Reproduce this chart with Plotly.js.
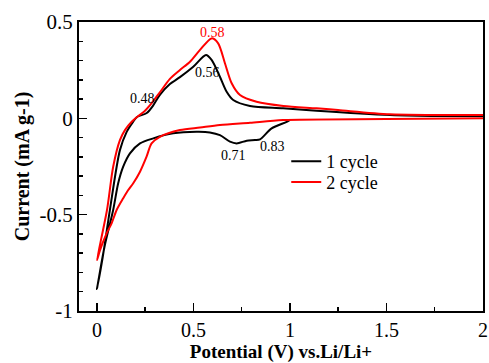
<!DOCTYPE html>
<html>
<head>
<meta charset="utf-8">
<script src="https://cdn.plot.ly/plotly-3.0.1.min.js"></script>
<style>html,body{margin:0;padding:0;background:#fff}#chart{width:489px;height:363px}</style>
</head>
<body>
<div id="chart"></div>
<script>
// Cycle 1: cathodic sweep (1.0 V -> 0 V) then anodic sweep (0 V -> 2 V)
const cycle1X = [1.0, 0.983, 0.905, 0.845, 0.819, 0.776, 0.724, 0.689, 0.637, 0.585, 0.516, 0.395, 0.292, 0.223, 0.171, 0.136, 0.110, 0.084, 0.040, 0.0,
                 0.030, 0.067, 0.119, 0.154, 0.187, 0.206, 0.258, 0.290, 0.326, 0.378, 0.430, 0.499, 0.565, 0.594, 0.637, 0.672, 0.706, 0.793, 0.964, 1.138, 1.518, 1.777, 2.0];
const cycle1Y = [-0.008, -0.018, -0.052, -0.109, -0.113, -0.116, -0.130, -0.121, -0.087, -0.073, -0.070, -0.078, -0.104, -0.130, -0.182, -0.251, -0.337, -0.476, -0.663, -0.886,
                 -0.720, -0.476, -0.165, -0.070, -0.018, 0.006, 0.028, 0.065, 0.122, 0.178, 0.214, 0.268, 0.329, 0.303, 0.216, 0.138, 0.095, 0.064, 0.052, 0.039, 0.017, 0.012, 0.012];
// Cycle 2: cathodic sweep (2 V -> 0 V) then anodic sweep (0 V -> 2 V)
const cycle2X = [2.0, 1.5, 0.964, 0.793, 0.637, 0.534, 0.430, 0.326, 0.283, 0.257, 0.223, 0.188, 0.162, 0.136, 0.102, 0.076, 0.050, 0.016, 0.0,
                 0.052, 0.084, 0.119, 0.145, 0.180, 0.214, 0.245, 0.275, 0.326, 0.378, 0.430, 0.482, 0.534, 0.594, 0.628, 0.663, 0.698, 0.741, 0.827, 0.966, 1.138, 1.249, 1.518, 2.0];
const cycle2Y = [0.0, -0.004, -0.009, -0.023, -0.035, -0.048, -0.061, -0.096, -0.130, -0.199, -0.277, -0.337, -0.372, -0.415, -0.476, -0.545, -0.597, -0.684, -0.736,
                 -0.476, -0.251, -0.113, -0.061, -0.018, 0.012, 0.035, 0.068, 0.135, 0.205, 0.251, 0.294, 0.355, 0.415, 0.389, 0.286, 0.182, 0.121, 0.086, 0.064, 0.052, 0.043, 0.021, 0.017];
const seriesNames = ['1 cycle', '2 cycle'];
const peakLabels = ['0.58', '0.56', '0.48', '0.71', '0.83'];
const peakX = [0.601, 0.575, 0.238, 0.705, 0.907];
const peakY = [0.448, 0.240, 0.105, -0.191, -0.144];
const peakColors = ['#ff0000', '#000000', '#000000', '#000000', '#000000'];
const xTickVals = [0, 0.5, 1, 1.5, 2];
const xTickText = ['0', '0.5', '1', '1.5', '2'];
const yTickVals = [-1, -0.5, 0, 0.5];
const yTickText = ['-1', '-0.5', '0', '0.5'];

const font = 'Liberation Serif';
const traces = [
  {x: cycle1X, y: cycle1Y, mode: 'lines', name: seriesNames[0], legend: 'legend',
   line: {color: '#000000', width: 2, shape: 'spline', smoothing: 0.8}},
  {x: cycle2X, y: cycle2Y, mode: 'lines', name: seriesNames[1], legend: 'legend2',
   line: {color: '#ff0000', width: 2, shape: 'spline', smoothing: 0.8}}
];
const annotations = peakLabels.map((t, i) => ({
  x: peakX[i], y: peakY[i], xref: 'x', yref: 'y', text: t, showarrow: false,
  font: {family: font, size: 14, color: peakColors[i]}
}));
const legendStyle = {xanchor: 'left', yanchor: 'top', bgcolor: 'rgba(0,0,0,0)',
                     font: {family: font, size: 18, color: '#000'}};
const layout = {
  width: 489, height: 363,
  margin: {l: 79, r: 6, t: 22, b: 52},
  paper_bgcolor: '#fff', plot_bgcolor: '#fff',
  font: {family: font},
  showlegend: true,
  legend: Object.assign({x: 0.513, y: 0.581}, legendStyle),
  legend2: Object.assign({x: 0.513, y: 0.509}, legendStyle),
  xaxis: {
    range: [-0.093, 2], tickvals: xTickVals, ticktext: xTickText,
    ticks: 'inside', ticklen: 8, tickwidth: 1.5, tickcolor: '#000',
    minor: {dtick: 0.25, ticks: 'inside', ticklen: 4, tickwidth: 1.5, tickcolor: '#000', showgrid: false},
    showgrid: false, zeroline: false, showline: true, linecolor: '#000', linewidth: 2, mirror: true,
    tickfont: {family: font, size: 20, color: '#000'},
    title: {text: '<b>Potential (V) vs.Li/Li+</b>', font: {family: font, size: 19, color: '#000'}, standoff: 10}
  },
  yaxis: {
    range: [-1, 0.5], tickvals: yTickVals, ticktext: yTickText,
    ticks: 'inside', ticklen: 8, tickwidth: 1.5, tickcolor: '#000',
    minor: {dtick: 0.1, ticks: 'inside', ticklen: 4, tickwidth: 1.5, tickcolor: '#000', showgrid: false},
    showgrid: false, zeroline: false, showline: true, linecolor: '#000', linewidth: 2, mirror: true,
    tickfont: {family: font, size: 21, color: '#000'},
    title: {text: '<b>Current (mA g-1)</b>', font: {family: font, size: 20, color: '#000'}, standoff: 5}
  },
  annotations: annotations
};
Plotly.newPlot('chart', traces, layout, {displayModeBar: false, staticPlot: true});
</script>
</body>
</html>
